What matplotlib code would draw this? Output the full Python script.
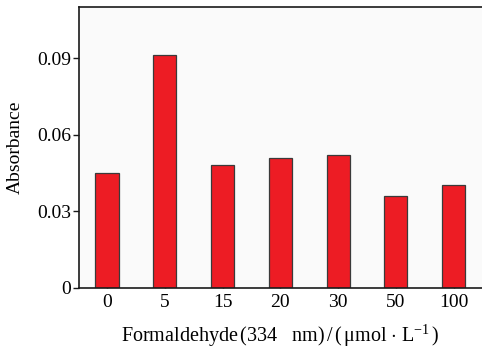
import matplotlib
matplotlib.use("Agg")
import matplotlib.pyplot as plt

categories = ["0", "5", "15", "20", "30", "50", "100"]
absorbance = [0.045, 0.0912, 0.0481, 0.0510, 0.0519, 0.0360, 0.0402]
yticks = [0, 0.03, 0.06, 0.09]
ytick_labels = ["0", "0.03", "0.06", "0.09"]

plt.rcParams['font.family'] = ['Liberation Serif', 'DejaVu Serif']
plt.rcParams['mathtext.fontset'] = 'custom'
plt.rcParams['mathtext.rm'] = 'Liberation Serif'
plt.rcParams['mathtext.it'] = 'Liberation Serif:italic'

fig = plt.figure(figsize=(4.82, 3.48), dpi=100)
ax = fig.add_axes([79/482, 60/348, 1 - 79/482, (288-7)/348])
ax.set_facecolor('#fafafa')

x = list(range(len(categories)))
ax.bar(x, absorbance, width=0.4, color='#ED1C24', edgecolor='#3a3a3a', linewidth=0.9, zorder=2)

ax.set_xlim(-0.485, 6.49)
ax.set_ylim(0, 0.11)
ax.set_xticks(x)
ax.set_xticklabels(categories)
ax.set_yticks(yticks)
ax.set_yticklabels(ytick_labels)

ax.spines['right'].set_visible(False)
for s in ['left', 'top', 'bottom']:
    ax.spines[s].set_linewidth(1.2)
    ax.spines[s].set_color('#1a1a1a')

ax.tick_params(axis='x', direction='in', length=4.5, width=1, color='#333333', labelsize=14, pad=4)
ax.tick_params(axis='y', direction='out', length=4.5, width=1, color='#1a1a1a', labelsize=14, pad=1)
for t in ax.get_xticklines():
    t.set_zorder(5)

ax.set_xlabel(r"Formaldehyde$\,$(334   nm)$\,$/$\,$($\,\mathrm{\mu}$mol $\cdot$ L$^{-1}\,$)",
              fontsize=14.5, labelpad=9)
ax.set_ylabel("Absorbance", fontsize=14, labelpad=9.5)

fig.savefig("out.png", dpi=100)
